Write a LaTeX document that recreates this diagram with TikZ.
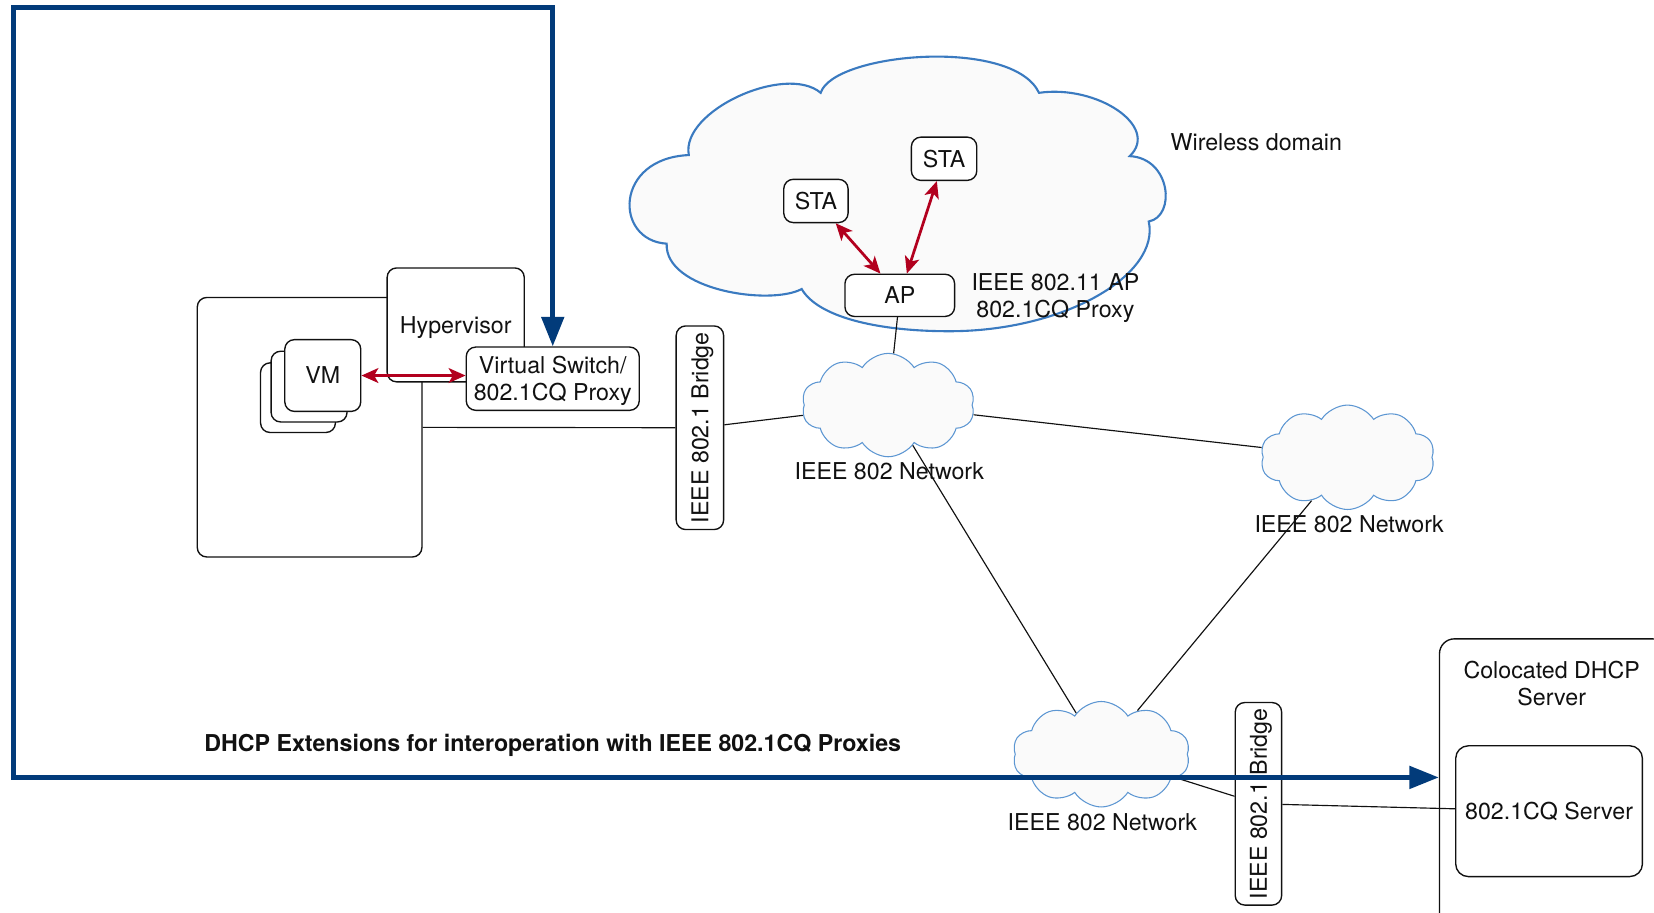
\documentclass[tikz,border=0pt]{standalone}
\usepackage{fontspec}
\setmainfont{TeX Gyre Heros}
\usetikzlibrary{arrows.meta,shapes.symbols}
\definecolor{dblue}{RGB}{2,59,122}
\definecolor{cblue}{RGB}{58,122,192}
\definecolor{lblue}{RGB}{92,150,210}
\definecolor{dred}{RGB}{178,0,30}
\definecolor{cfill}{RGB}{250,250,250}
\definecolor{ink}{RGB}{17,17,17}
\begin{document}
\begin{tikzpicture}[x=1pt,y=-1pt,
  every node/.style={font=\fontsize{22}{25.5}\selectfont, text=ink, text depth=0pt},
  rbox/.style={draw=ink, line width=1.3pt, rounded corners=9pt, fill=white, inner sep=0pt, align=center},
  netcloud/.style={cloud, cloud puffs=10, cloud puff arc=115, draw=lblue, line width=1pt, fill=cfill, minimum width=164pt, minimum height=98pt, inner sep=0pt},
  link/.style={draw=ink, line width=1.1pt},
  redarr/.style={draw=dred, line width=2.6pt, {Stealth[length=16pt,width=14pt,inset=4pt]}-{Stealth[length=16pt,width=14pt,inset=4pt]}},
  bluearr/.style={draw=dblue, line width=4.5pt, {Triangle[length=28pt,width=21pt]}-{Triangle[length=28pt,width=21pt]}},
  lbl/.style={inner sep=0pt, align=center},
]
\useasboundingbox (0,0) rectangle (1568,865);
\clip (0,0) rectangle (1568,865);

% host side
\node[rbox, minimum width=213pt, minimum height=246pt] (host) at (293.5,405) {};
\node[rbox, minimum width=130pt, minimum height=108pt] (hyp) at (432,308) {Hypervisor};
\node[rbox, minimum width=164pt, minimum height=60pt] (vs) at (524,359) {Virtual Switch/\\802.1CQ Proxy};
\node[rbox, minimum width=71pt, minimum height=66pt] (vm3) at (282.5,377) {};
\node[rbox, minimum width=72pt, minimum height=67pt] (vm2) at (293,366.5) {};
\node[rbox, minimum width=72pt, minimum height=68pt] (vm1) at (306,356) {VM};

% wireless cloud
\path[draw=cblue, line width=2pt, fill=cfill]
 (778,88) .. controls (790,50) and (960,35) .. (985,88)
 .. controls (1040,80) and (1100,120) .. (1071,148)
 .. controls (1110,150) and (1115,205) .. (1089,210)
 .. controls (1100,260) and (1010,314) .. (900,314)
 .. controls (830,314) and (775,300) .. (760,274)
 .. controls (730,290) and (630,275) .. (632,231)
 .. controls (582,228) and (582,150) .. (653,147)
 .. controls (645,105) and (745,60) .. (778,88) -- cycle;

\node[rbox, minimum width=61pt, minimum height=41pt] (sta1) at (773.5,190.5) {STA};
\node[rbox, minimum width=62pt, minimum height=41pt] (sta2) at (895,150.5) {STA};
\node[rbox, minimum width=104pt, minimum height=40pt] (ap) at (853,280) {AP};
\node[lbl] (wl) at (1191,135) {Wireless domain};
\node[lbl] (apl) at (1000.5,280.5) {IEEE 802.11 AP\\802.1CQ Proxy};

% bridges
\node[rbox, rotate=90, minimum width=193pt, minimum height=45pt] (b1) at (663.5,405.5) {IEEE 802.1 Bridge};
\node[rbox, rotate=90, minimum width=192pt, minimum height=44pt] (b2) at (1193,762) {IEEE 802.1 Bridge};

% networks
\node[netcloud] (c1) at (842,384) {};
\node[netcloud, minimum width=165pt, minimum height=99pt] (c2) at (1277.5,433.5) {};
\node[netcloud, minimum width=168pt, minimum height=100pt] (c3) at (1044,715) {};
\node[lbl] (c1l) at (843,447) {IEEE 802 Network};
\node[lbl] (c2l) at (1279,497) {IEEE 802 Network};
\node[lbl] (c3l) at (1045,779) {IEEE 802 Network};

% DHCP server
\node[rbox, rounded corners=14pt, minimum width=216pt, minimum height=300pt, anchor=north west] (coloc) at (1364,605) {};
\node[lbl] (colocl) at (1471,648) {Colocated DHCP\\Server};
\node[rbox, rounded corners=12pt, minimum width=177pt, minimum height=124pt] (srv) at (1468.5,769) {802.1CQ Server};

% links
\draw[link] (host) -- (b1);
\draw[link] (b1) -- (c1);
\draw[link] (ap) -- (c1);
\draw[link] (c1) -- (c2);
\draw[link] (c1) -- (c3);
\draw[link] (c2) -- (c3);
\draw[link] (c3) -- (b2);
\draw[link] (b2) -- (srv);

% red arrows
\draw[redarr] (sta1) -- (ap);
\draw[redarr] (sta2) -- (ap);
\draw[redarr] (vm1) -- (vm1 -| vs.west);

% DHCP extension path
\node[lbl, font=\bfseries\fontsize{22}{25.5}\selectfont] (dhcp) at (524,704) {DHCP Extensions for interoperation with IEEE 802.1CQ Proxies};
\coordinate (tl) at (13,7);
\coordinate (tip) at (1364,737);
\draw[bluearr] (vs.north) |- (tl) |- (tip);
\end{tikzpicture}
\end{document}
